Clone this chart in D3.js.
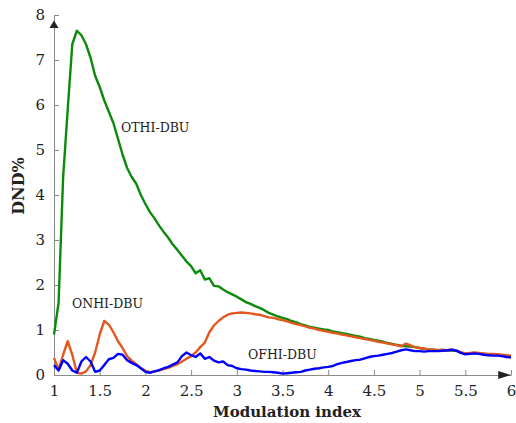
<!DOCTYPE html>
<html>
<head>
<meta charset="utf-8">
<script src="https://cdn.jsdelivr.net/npm/d3@7"></script>
<style>
  body { margin: 0; background: #fff; }
  svg text { font-family: "DejaVu Serif", serif; fill: #222; }
</style>
</head>
<body>
<svg id="chart" width="516" height="423"></svg>
<script>
// DATA - modulation index grid 1 .. 6, step 0.05
const modIndex = d3.range(0, 101).map(i => +(1 + i * 0.05).toFixed(2));

const othi = [
  0.9, 1.6, 4.4, 5.9, 7.35, 7.65, 7.55, 7.35, 7.05, 6.65,
  6.4, 6.1, 5.85, 5.6, 5.25, 4.9, 4.6, 4.4, 4.25, 4.0,
  3.8, 3.62, 3.48, 3.32, 3.18, 3.05, 2.9, 2.78, 2.65, 2.52,
  2.42, 2.26, 2.33, 2.12, 2.15, 1.98, 1.97, 1.9, 1.84, 1.79,
  1.74, 1.68, 1.62, 1.58, 1.53, 1.49, 1.44, 1.38, 1.34, 1.3,
  1.27, 1.24, 1.2, 1.17, 1.13, 1.1, 1.07, 1.05, 1.03, 1.01,
  1.0, 0.97, 0.95, 0.93, 0.91, 0.89, 0.87, 0.85, 0.82, 0.8,
  0.78, 0.76, 0.74, 0.71, 0.69, 0.67, 0.65, 0.64, 0.63, 0.62,
  0.6, 0.58, 0.57, 0.56, 0.55, 0.55, 0.54, 0.55, 0.54, 0.5,
  0.47, 0.48, 0.49, 0.48, 0.47, 0.46, 0.46, 0.45, 0.44, 0.43,
  0.42
];
const onhi = [
  0.38, 0.12, 0.45, 0.75, 0.45, 0.05, 0.03, 0.08, 0.22, 0.5,
  0.9, 1.2, 1.12, 0.95, 0.75, 0.6, 0.42, 0.32, 0.24, 0.15,
  0.1, 0.06, 0.08, 0.1, 0.13, 0.16, 0.2, 0.24, 0.3, 0.36,
  0.42, 0.5, 0.62, 0.72, 0.95, 1.1, 1.2, 1.28, 1.34, 1.37,
  1.38, 1.39, 1.38, 1.37, 1.35, 1.34, 1.31, 1.28, 1.27, 1.24,
  1.22, 1.19, 1.16, 1.13, 1.11, 1.08, 1.05, 1.03, 1.0, 0.98,
  0.96, 0.94, 0.92, 0.9, 0.88, 0.86, 0.84, 0.82, 0.8, 0.78,
  0.76, 0.74, 0.72, 0.7, 0.68, 0.66, 0.64, 0.7, 0.66, 0.62,
  0.6, 0.59, 0.57, 0.56, 0.55, 0.56, 0.55, 0.56, 0.55, 0.51,
  0.48, 0.49, 0.5, 0.49, 0.48, 0.47, 0.47, 0.46, 0.45, 0.44,
  0.43
];
const ofhi = [
  0.22, 0.1, 0.33, 0.25, 0.1, 0.05, 0.3, 0.4, 0.3, 0.07,
  0.1, 0.22, 0.35, 0.38, 0.47, 0.45, 0.33, 0.27, 0.22, 0.15,
  0.07, 0.05, 0.08, 0.11, 0.15, 0.18, 0.23, 0.28, 0.42, 0.5,
  0.44, 0.4, 0.48, 0.36, 0.4, 0.32, 0.28, 0.3, 0.22, 0.2,
  0.15, 0.13, 0.12, 0.1, 0.09, 0.08, 0.07, 0.07, 0.06, 0.05,
  0.03, 0.04, 0.05, 0.06, 0.07, 0.1, 0.12, 0.14, 0.15, 0.17,
  0.18, 0.2, 0.24, 0.27, 0.29, 0.31, 0.33, 0.34, 0.37, 0.4,
  0.42, 0.43, 0.45, 0.47, 0.49, 0.52, 0.55, 0.57, 0.55, 0.53,
  0.53, 0.52, 0.53, 0.53, 0.53, 0.54, 0.55, 0.56, 0.54, 0.49,
  0.46, 0.47, 0.48, 0.47, 0.45, 0.44, 0.43, 0.43, 0.42, 0.4,
  0.39
];

const xTicks = [1, 1.5, 2, 2.5, 3, 3.5, 4, 4.5, 5, 5.5, 6];
const yTicks = [0, 1, 2, 3, 4, 5, 6, 7, 8];

const series = [
  { name: "OTHI-DBU", values: othi, color: "#0b8a0b", lx: 121, ly: 132 },
  { name: "ONHI-DBU", values: onhi, color: "#e2581f", lx: 72, ly: 308 },
  { name: "OFHI-DBU", values: ofhi, color: "#0000ff", lx: 248, ly: 359 }
];

const svg = d3.select("#chart");

// SCALES
const xScale = d3.scaleLinear().domain([1, 6]).range([54, 511]);
const yScale = d3.scaleLinear().domain([0, 8]).range([375, 15]);

// AXES (ticks drawn inward)
const xAxis = d3.axisBottom(xScale).tickValues(xTicks).tickSize(-5).tickPadding(10)
  .tickFormat(d3.format("~g")).tickSizeOuter(0);
const yAxis = d3.axisLeft(yScale).tickValues(yTicks).tickSize(-5).tickPadding(9)
  .tickSizeOuter(0);

const gx = svg.append("g")
  .attr("transform", `translate(0, ${yScale(0)})`)
  .call(xAxis);
const gy = svg.append("g")
  .attr("transform", `translate(${xScale(1)}, 0)`)
  .call(yAxis);

[gx, gy].forEach(g => {
  g.attr("font-family", null).attr("font-size", null);
  g.select(".domain").attr("stroke", "#8a8a8a").attr("stroke-width", 1);
  g.selectAll(".tick line").attr("stroke", "#8a8a8a");
  g.selectAll(".tick text")
    .style("font-size", "15px")
    .attr("fill", "#333");
});
gx.selectAll(".tick text").attr("dy", "0.75em");

// arrow heads on axes
svg.append("path")
  .attr("d", `M${xScale(1)},${yScale(7.88)} L${xScale(1) - 4.5},${yScale(7.71)} L${xScale(1) + 4.5},${yScale(7.71)} Z`)
  .attr("fill", "#222");
svg.append("path")
  .attr("d", `M${xScale(6)},${yScale(0)} L${xScale(5.86)},${yScale(0) - 4} L${xScale(5.86)},${yScale(0) + 4} Z`)
  .attr("fill", "#222");

// LINES
const line = d3.line()
  .x((d, i) => xScale(modIndex[i]))
  .y(d => yScale(d));

svg.append("g").selectAll("path.series")
  .data(series)
  .join("path")
  .attr("class", "series")
  .attr("d", d => line(d.values))
  .attr("fill", "none")
  .attr("stroke", d => d.color)
  .attr("stroke-width", 2.4)
  .attr("stroke-linejoin", "round");

// LABELS
svg.append("g").selectAll("text")
  .data(series)
  .join("text")
  .attr("x", d => d.lx)
  .attr("y", d => d.ly)
  .style("font-size", "12.5px")
  .text(d => d.name);

// AXIS TITLES
svg.append("text")
  .attr("x", 287)
  .attr("y", 417)
  .attr("text-anchor", "middle")
  .style("font-size", "15px")
  .style("font-weight", "bold")
  .text("Modulation index");

svg.append("text")
  .attr("transform", "translate(24, 186) rotate(-90)")
  .attr("text-anchor", "middle")
  .style("font-size", "16px")
  .style("font-weight", "bold")
  .text("DND%");
</script>
</body>
</html>
